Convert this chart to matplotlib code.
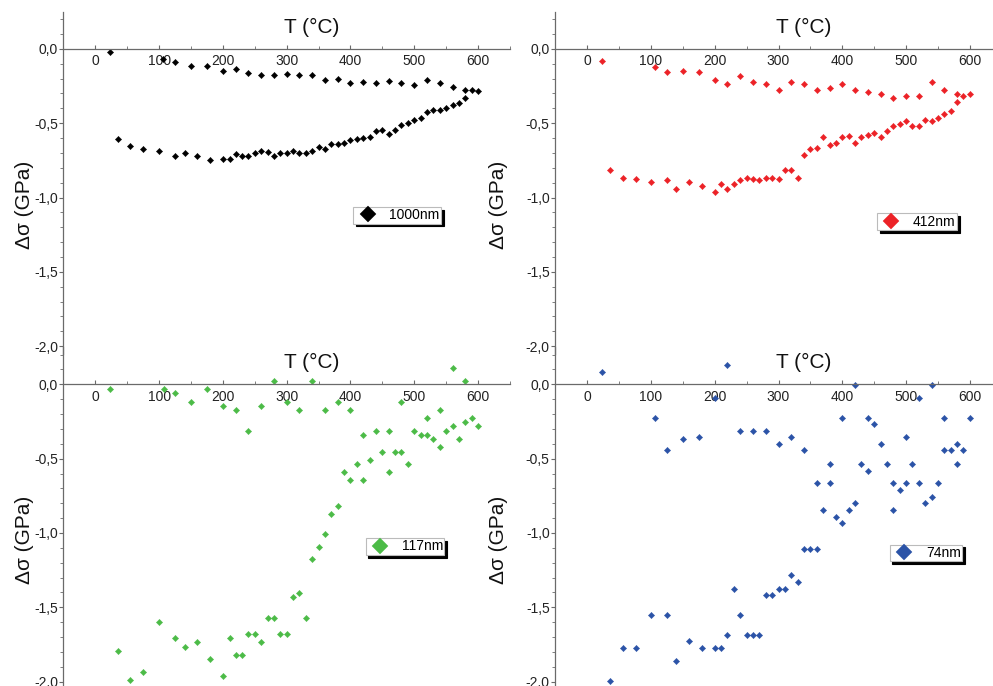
import matplotlib
matplotlib.use("Agg")
import matplotlib.pyplot as plt
from matplotlib.ticker import MultipleLocator, FuncFormatter

plt.rcParams['font.family'] = ['Liberation Sans', 'DejaVu Sans']

# --- 1000 nm film ---
t_1000_heat = [23, 106, 125, 150, 175, 200, 220, 240, 260, 280, 300, 320, 340, 360, 380,
               400, 420, 440, 460, 480, 500, 520, 540, 560, 580, 590, 600]
s_1000_heat = [-0.022, -0.07, -0.085, -0.114, -0.114, -0.15, -0.132, -0.159, -0.177, -0.177,
               -0.166, -0.177, -0.177, -0.209, -0.2, -0.231, -0.22, -0.231, -0.213, -0.227,
               -0.245, -0.209, -0.231, -0.258, -0.276, -0.278, -0.285]
t_1000_cool = [36, 55, 75, 100, 125, 140, 160, 180, 200, 211, 220, 230, 240, 250, 260, 270,
               280, 290, 300, 310, 320, 330, 340, 350, 360, 370, 380, 390, 400, 410, 420, 430,
               440, 450, 460, 470, 480, 490, 500, 510, 520, 530, 540, 550, 560, 570, 580]
s_1000_cool = [-0.608, -0.655, -0.671, -0.69, -0.72, -0.702, -0.72, -0.747, -0.738, -0.742,
               -0.707, -0.72, -0.72, -0.698, -0.689, -0.693, -0.72, -0.702, -0.698, -0.684,
               -0.702, -0.702, -0.689, -0.657, -0.671, -0.639, -0.639, -0.63, -0.612, -0.608,
               -0.599, -0.59, -0.55, -0.545, -0.576, -0.545, -0.509, -0.496, -0.478, -0.464,
               -0.428, -0.41, -0.41, -0.397, -0.379, -0.366, -0.33]

# --- 412 nm film ---
t_412_heat = [23, 107, 125, 150, 175, 200, 220, 240, 260, 280, 300, 320, 340, 360, 380,
              400, 420, 440, 460, 480, 500, 520, 540, 560, 580, 590, 600]
s_412_heat = [-0.079, -0.119, -0.157, -0.151, -0.157, -0.207, -0.238, -0.182, -0.222, -0.238,
              -0.279, -0.222, -0.238, -0.279, -0.263, -0.238, -0.279, -0.288, -0.303, -0.328,
              -0.319, -0.319, -0.222, -0.279, -0.303, -0.319, -0.303]
t_412_cool = [36, 56, 76, 100, 125, 140, 160, 180, 200, 210, 220, 230, 240, 250, 260, 270,
              280, 290, 300, 310, 320, 330, 340, 350, 360, 370, 380, 390, 400, 410, 420, 430,
              440, 450, 460, 470, 480, 490, 500, 510, 520, 530, 540, 550, 560, 570, 580]
s_412_cool = [-0.818, -0.867, -0.874, -0.899, -0.881, -0.946, -0.899, -0.921, -0.962, -0.912,
              -0.946, -0.906, -0.881, -0.867, -0.874, -0.881, -0.867, -0.867, -0.874, -0.818,
              -0.818, -0.867, -0.715, -0.676, -0.667, -0.596, -0.645, -0.636, -0.596, -0.589,
              -0.636, -0.596, -0.58, -0.564, -0.596, -0.555, -0.517, -0.508, -0.485, -0.517,
              -0.517, -0.476, -0.485, -0.467, -0.436, -0.42, -0.357]

# --- 117 nm film ---
t_117_heat = [23, 107, 125, 150, 175, 200, 220, 240, 260, 280, 300, 320, 340, 360, 380,
              400, 420, 440, 460, 480, 500, 520, 540, 560, 580, 590, 600]
s_117_heat = [-0.034, -0.034, -0.058, -0.117, -0.034, -0.144, -0.171, -0.312, -0.144, 0.022,
              -0.117, -0.171, 0.022, -0.171, -0.117, -0.171, -0.339, -0.312, -0.312, -0.117,
              -0.312, -0.227, -0.171, 0.108, 0.022, -0.227, -0.283]
t_117_cool = [36, 55, 75, 100, 125, 140, 160, 180, 200, 211, 220, 230, 240, 250, 260, 270,
              280, 290, 300, 310, 320, 330, 340, 350, 360, 370, 380, 390, 400, 410, 420, 430,
              450, 460, 470, 480, 490, 510, 520, 530, 540, 550, 560, 570, 580]
s_117_cool = [-1.793, -1.989, -1.933, -1.598, -1.708, -1.764, -1.737, -1.849, -1.96, -1.708,
              -1.82, -1.82, -1.681, -1.681, -1.737, -1.569, -1.569, -1.681, -1.681, -1.429,
              -1.402, -1.569, -1.178, -1.094, -1.009, -0.872, -0.816, -0.591, -0.647, -0.535,
              -0.647, -0.508, -0.452, -0.591, -0.452, -0.452, -0.535, -0.339, -0.339, -0.369,
              -0.422, -0.312, -0.283, -0.369, -0.254]

# --- 74 nm film ---
t_74_heat = [23, 107, 125, 150, 175, 200, 220, 240, 260, 280, 300, 320, 340, 360, 380,
             400, 420, 440, 460, 480, 500, 520, 540, 560, 580, 590, 600]
s_74_heat = [0.085, -0.225, -0.445, -0.366, -0.357, -0.092, 0.13, -0.312, -0.312, -0.312,
             -0.402, -0.357, -0.445, -0.667, -0.535, -0.225, -0.004, -0.225, -0.402, -0.667,
             -0.357, -0.092, -0.004, -0.225, -0.535, -0.445, -0.225]
t_74_cool = [36, 56, 76, 100, 125, 140, 160, 180, 200, 210, 220, 230, 240, 250, 260, 270,
             280, 290, 300, 310, 320, 330, 340, 350, 360, 370, 380, 390, 400, 410, 420, 430,
             440, 450, 470, 480, 490, 500, 510, 520, 530, 540, 550, 560, 570, 580]
s_74_cool = [-1.993, -1.773, -1.773, -1.553, -1.553, -1.863, -1.73, -1.773, -1.773, -1.773,
             -1.685, -1.375, -1.553, -1.685, -1.685, -1.685, -1.42, -1.42, -1.375, -1.375,
             -1.285, -1.33, -1.11, -1.11, -1.11, -0.845, -0.667, -0.89, -0.933, -0.845,
             -0.8, -0.535, -0.58, -0.27, -0.535, -0.845, -0.712, -0.667, -0.535, -0.667,
             -0.8, -0.755, -0.667, -0.445, -0.445, -0.402]

labels = ['1000nm', '412nm', '117nm', '74nm']
colors = ['#000000', '#ec2227', '#4cbb47', '#2b53a7']
heat = [(t_1000_heat, s_1000_heat), (t_412_heat, s_412_heat),
        (t_117_heat, s_117_heat), (t_74_heat, s_74_heat)]
cool = [(t_1000_cool, s_1000_cool), (t_412_cool, s_412_cool),
        (t_117_cool, s_117_cool), (t_74_cool, s_74_cool)]

# panel boxes in figure fraction (right column runs off the page edge)
boxes = [(0.0639, 0.4846), (0.5592, 0.4846), (0.0639, -0.0044), (0.5592, -0.0044)]
leg_pos = [(0.747, 0.405), (0.810, 0.386), (0.765, 0.417), (0.830, 0.398)]
ylab_x = [-0.066, -0.106, -0.066, -0.106]
W, H = 0.4496, 0.4983

axis_col = '#6a6a6a'
fig = plt.figure(figsize=(9.93, 6.86), dpi=100)

for i in range(4):
    ax = fig.add_axes([boxes[i][0], boxes[i][1], W, H])
    ax.patch.set_alpha(0)
    t_h, s_h = heat[i]
    t_c, s_c = cool[i]
    ax.plot(t_h, s_h, 'D', color=colors[i], ms=3.2, mew=0.3, label=labels[i])
    ax.plot(t_c, s_c, 'D', color=colors[i], ms=3.2, mew=0.3)

    ax.set_xlim(-50, 650)
    ax.set_ylim(-2.05, 0.25)
    ax.spines['top'].set_visible(False)
    ax.spines['right'].set_visible(False)
    ax.spines['bottom'].set_position(('data', 0))
    for sp in ('left', 'bottom'):
        ax.spines[sp].set_color(axis_col)
        ax.spines[sp].set_linewidth(0.9)

    ax.xaxis.set_major_locator(MultipleLocator(100))
    ax.xaxis.set_minor_locator(MultipleLocator(50))
    ax.yaxis.set_major_locator(MultipleLocator(0.5))
    ax.yaxis.set_minor_locator(MultipleLocator(0.1))
    ax.yaxis.set_major_formatter(FuncFormatter(lambda v, p: f"{v:.1f}".replace('.', ',')))

    ax.tick_params(axis='x', which='both', direction='in', color=axis_col,
                   labelsize=10, labelcolor='#222222', pad=4)
    ax.tick_params(axis='x', which='major', length=3)
    ax.tick_params(axis='x', which='minor', length=2)
    ax.tick_params(axis='y', which='both', direction='out', color=axis_col,
                   labelsize=10, labelcolor='#222222', pad=1)
    ax.tick_params(axis='y', which='major', length=3)
    ax.tick_params(axis='y', which='minor', length=2)

    ax.text(339, 0.147, 'T (°C)', ha='center', va='center', fontsize=15, color='#111111')
    ax.set_ylabel('Δσ (GPa)', fontsize=15, color='#111111')
    ax.yaxis.set_label_coords(ylab_x[i], 0.435)

    leg = ax.legend(loc='center', bbox_to_anchor=leg_pos[i], markerscale=2.65,
                    fontsize=10, fancybox=False, borderpad=0.1, handlelength=1.9,
                    handletextpad=0.6, borderaxespad=0,
                    shadow={'color': 'black', 'alpha': 1})
    leg.get_frame().set_edgecolor('#bbbbbb')
    leg.get_frame().set_linewidth(0.8)

fig.savefig('out.png', dpi=100)
